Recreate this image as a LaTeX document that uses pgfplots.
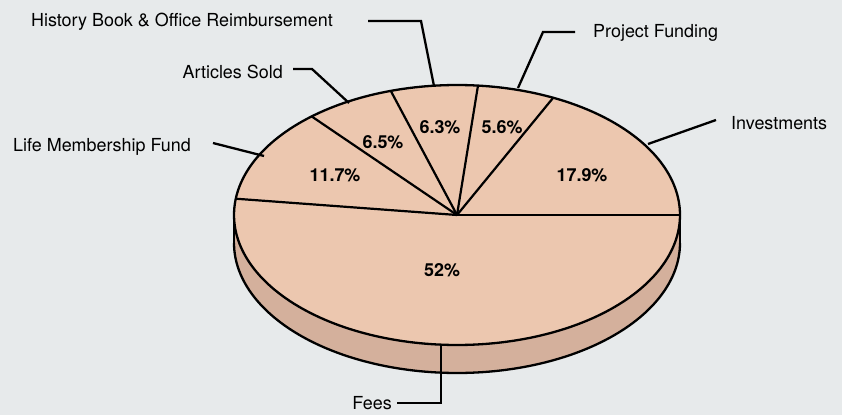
\documentclass[border=0pt]{standalone}
\usepackage{pgfplots}
\pgfplotsset{compat=1.18}
\usepackage{fontspec}
\setmainfont{TeX Gyre Heros}
\definecolor{bgc}{RGB}{231,234,235}
\definecolor{topc}{RGB}{236,199,175}
\definecolor{sidec}{RGB}{212,176,156}
\newcommand{\lab}{\fontsize{18}{20}\selectfont}
\newcommand{\pct}{\fontsize{18}{20}\selectfont\bfseries}
\begin{document}
\begin{tikzpicture}
\begin{axis}[width=842bp, height=415bp, scale only axis,
  xmin=0, xmax=842, ymin=0, ymax=415, y dir=reverse,
  hide axis, clip=false]
% background
\addplot[fill=bgc, draw=none] coordinates {(0,0) (842,0) (842,415) (0,415)} -- cycle;
% side of the pie
\addplot[fill=sidec, draw=none, domain=180:360, samples=120] ({457+223*cos(x)}, {243-130*sin(x)});
\addplot[fill=sidec, draw=none] coordinates {(234,215) (680,215) (680,243) (234,243)} -- cycle;
\addplot[draw=black, line width=2.3bp, domain=180:360, samples=120] ({457+223*cos(x)}, {243-130*sin(x)});
\addplot[draw=black, line width=2.3bp] coordinates {(234,215) (234,243)};
\addplot[draw=black, line width=2.3bp] coordinates {(680,215) (680,243)};
% top face
\addplot[fill=topc, draw=black, line width=2.3bp, domain=0:360, samples=240] ({457+223*cos(x)}, {215-130*sin(x)}) -- cycle;
% slice boundaries: cumulative shares (%) 0, 17.9, 23.5, 29.8, 36.3, 48.0
\pgfplotsinvokeforeach{0,17.9,23.5,29.8,36.3,48.0}{
  \addplot[draw=black, line width=2.2bp, domain=0:1, samples=2] ({457+x*223*cos(3.6*#1)}, {215-x*130*sin(3.6*#1)});
}
% leader lines
\addplot[draw=black, line width=2.3bp] coordinates {(368,21) (421,21) (434,86)};
\addplot[draw=black, line width=2.3bp] coordinates {(293,69) (312,69) (349,103)};
\addplot[draw=black, line width=2.3bp] coordinates {(213,143) (264,156)};
\addplot[draw=black, line width=2.3bp] coordinates {(575,32) (543,32) (518,88)};
\addplot[draw=black, line width=2.3bp] coordinates {(716,120) (648,144)};
\addplot[draw=black, line width=2.3bp] coordinates {(441,345) (441,403) (397,403)};
% labels
\node[anchor=east, inner sep=0pt] at (axis cs:333,22) {\lab History Book \& Office Reimbursement};
\node[anchor=east, inner sep=0pt] at (axis cs:283,72) {\lab Articles Sold};
\node[anchor=east, inner sep=0pt] at (axis cs:191,147) {\lab Life Membership Fund};
\node[anchor=west, inner sep=0pt] at (axis cs:593,33) {\lab Project Funding};
\node[anchor=west, inner sep=0pt] at (axis cs:731,123) {\lab Investments};
\node[anchor=east, inner sep=0pt] at (axis cs:392,403) {\lab Fees};
% percentages
\node at (axis cs:335,175) {\pct 11.7\%};
\node at (axis cs:383,142) {\pct 6.5\%};
\node at (axis cs:440,127) {\pct 6.3\%};
\node at (axis cs:502,127) {\pct 5.6\%};
\node at (axis cs:582,175) {\pct 17.9\%};
\node at (axis cs:442,270) {\pct 52\%};
\end{axis}
\end{tikzpicture}
\end{document}
